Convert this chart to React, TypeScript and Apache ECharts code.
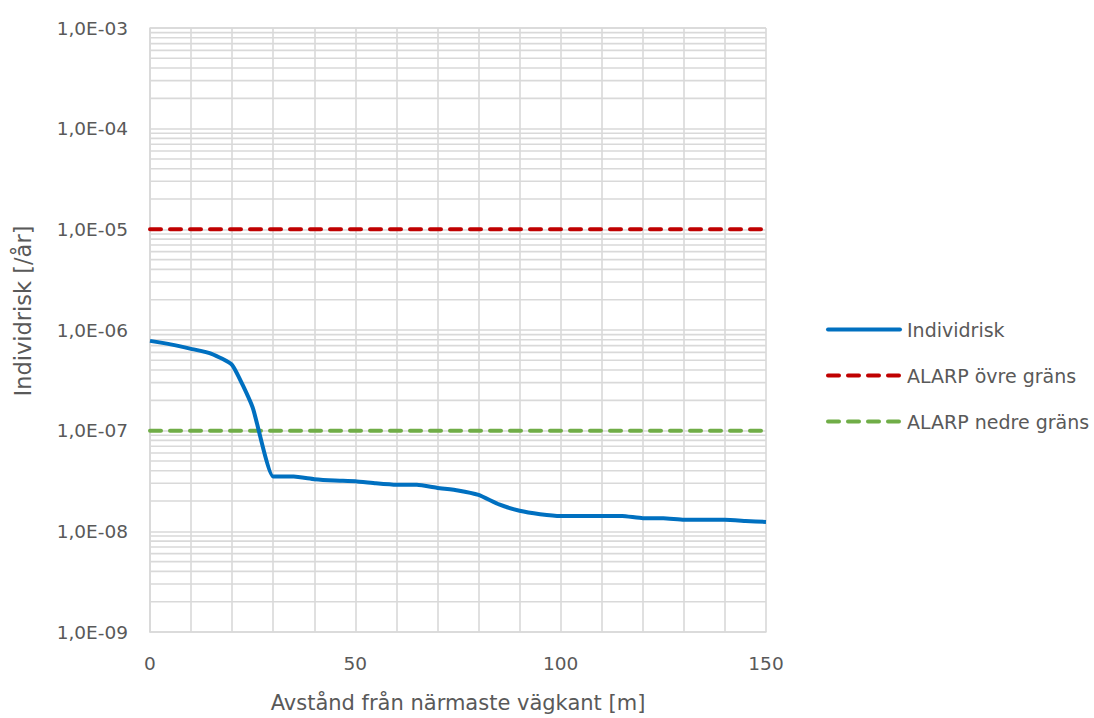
import React, { useEffect, useRef } from "react";
import * as echarts from "echarts";

const distances = [0, 5, 10, 15, 20, 25, 30, 35, 40, 45, 50, 55, 60, 65, 70, 75, 80, 85, 90, 95, 100, 105, 110, 115, 120, 125, 130, 135, 140, 145, 150];
const individrisk = [7.8e-7, 7.2e-7, 6.5e-7, 5.8e-7, 4.5e-7, 1.7e-7, 3.5e-8, 3.5e-8, 3.3e-8, 3.2e-8, 3.15e-8, 3.0e-8, 2.9e-8, 2.9e-8, 2.7e-8, 2.55e-8, 2.3e-8, 1.85e-8, 1.6e-8, 1.48e-8, 1.42e-8, 1.42e-8, 1.42e-8, 1.42e-8, 1.35e-8, 1.35e-8, 1.3e-8, 1.3e-8, 1.3e-8, 1.27e-8, 1.24e-8];
const alarpUpper = 1e-5;
const alarpLower = 1e-7;
const decades = [1e-9, 1e-8, 1e-7, 1e-6, 1e-5, 1e-4];
const minorMultipliers = [2, 3, 4, 5, 6, 7, 8, 9];
const seriesNames = ["Individrisk", "ALARP övre gräns", "ALARP nedre gräns"];

const TEXT = "#595959";
const GRID = "#D9D9D9";
const GRID_W = 1.6;
const FONT = "'DejaVu Sans', sans-serif";

export default function App() {
  const ref = useRef<HTMLDivElement>(null);
  useEffect(() => {
    if (!ref.current) return;
    const chart = echarts.init(ref.current, undefined, { renderer: "svg" });
    const xMin = distances[0];
    const xMax = distances[distances.length - 1];
    const minorSeries: any[] = [];
    decades.forEach((d) =>
      minorMultipliers.forEach((m) =>
        minorSeries.push({
          name: "minor-" + m + "-" + d,
          type: "line",
          symbol: "none",
          silent: true,
          z: 1,
          data: [[xMin, m * d], [xMax, m * d]],
          lineStyle: { color: GRID, width: GRID_W },
          emphasis: { disabled: true },
        })
      )
    );
    const fmt = (v: number) => {
      const e = Math.round(Math.log10(v));
      const abs = Math.abs(e);
      return "1,0E" + (e < 0 ? "-" : "+") + (abs < 10 ? "0" + abs : "" + abs);
    };
    chart.setOption({
      animation: false,
      textStyle: { fontFamily: FONT },
      grid: { left: 150, right: 328, top: 28, bottom: 84, containLabel: false },
      legend: {
        orient: "vertical",
        left: 826,
        top: 320,
        padding: 0,
        itemWidth: 72,
        itemHeight: 14,
        itemGap: 27,
        itemStyle: { opacity: 0 },
        lineStyle: { width: 4, cap: "round" },
        data: seriesNames,
        textStyle: { color: TEXT, fontSize: 19, fontFamily: FONT, padding: [0, 0, 0, 2] },
      },
      xAxis: {
        type: "value",
        min: 0,
        max: 150,
        interval: 50,
        name: "Avstånd från närmaste vägkant [m]",
        nameLocation: "middle",
        nameGap: 60,
        nameTextStyle: { color: TEXT, fontSize: 21, fontFamily: FONT },
        axisLine: { show: true, lineStyle: { color: GRID, width: GRID_W } },
        axisTick: { show: false },
        axisLabel: { color: TEXT, fontSize: 18.5, margin: 22, fontFamily: FONT },
        splitLine: { show: true, lineStyle: { color: GRID, width: GRID_W } },
        minorTick: { show: false, splitNumber: 5 },
        minorSplitLine: { show: true, lineStyle: { color: GRID, width: GRID_W } },
      },
      yAxis: {
        type: "log",
        logBase: 10,
        min: 1e-9,
        max: 1e-3,
        splitNumber: 6,
        name: "Individrisk [/år]",
        nameLocation: "middle",
        nameGap: 116,
        nameTextStyle: { color: TEXT, fontSize: 22.5, fontFamily: FONT, padding: [0, 0, 0, 38] },
        axisLine: { show: true, lineStyle: { color: GRID, width: GRID_W } },
        axisTick: { show: false },
        axisLabel: { color: TEXT, fontSize: 18.5, margin: 22, fontFamily: FONT, formatter: fmt },
        splitLine: { show: true, lineStyle: { color: GRID, width: GRID_W } },
      },
      series: [
        ...minorSeries,
        {
          name: seriesNames[1],
          type: "line",
          symbol: "none",
          data: distances.map((d) => [d, alarpUpper]),
          lineStyle: { color: "#C00000", width: 4, type: [11, 9], cap: "round" },
          itemStyle: { color: "#C00000" },
          z: 3,
        },
        {
          name: seriesNames[2],
          type: "line",
          symbol: "none",
          data: distances.map((d) => [d, alarpLower]),
          lineStyle: { color: "#70AD47", width: 4, type: [11, 9], cap: "round" },
          itemStyle: { color: "#70AD47" },
          z: 3,
        },
        {
          name: seriesNames[0],
          type: "line",
          symbol: "none",
          smooth: 0.15,
          data: distances.map((d, i) => [d, individrisk[i]]),
          lineStyle: { color: "#0070C0", width: 4 },
          itemStyle: { color: "#0070C0" },
          z: 4,
        },
      ],
    });
    return () => chart.dispose();
  }, []);
  return <div ref={ref} style={{ width: 1094, height: 718, position: "absolute", left: 0, top: 0, background: "#fff" }} />;
}
